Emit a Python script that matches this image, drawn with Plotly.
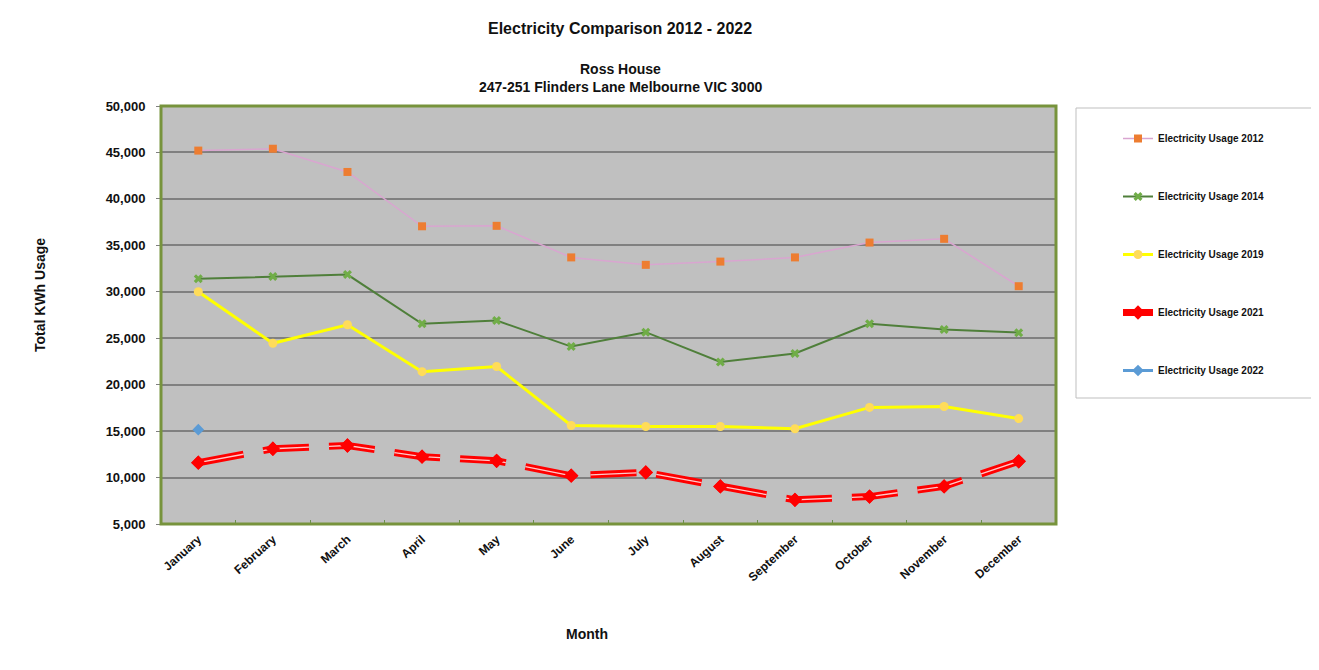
import plotly.graph_objects as go

months = ["January", "February", "March", "April", "May", "June", "July",
          "August", "September", "October", "November", "December"]

usage_2012 = [45200, 45400, 42900, 37050, 37100, 33700, 32900, 33250, 33700, 35300, 35700, 30600]
usage_2014 = [31400, 31650, 31850, 26550, 26900, 24100, 25650, 22450, 23350, 26550, 25950, 25600]
usage_2019 = [30000, 24450, 26450, 21400, 21950, 15600, 15500, 15500, 15250, 17550, 17650, 16350]
usage_2021 = [11600, 13100, 13450, 12250, 11800, 10200, 10550, 9050, 7600, 7950, 9050, 11750]
usage_2022 = [15150, None, None, None, None, None, None, None, None, None, None, None]

y_ticks = [5000, 10000, 15000, 20000, 25000, 30000, 35000, 40000, 45000, 50000]

# page has an 8px body margin; screen coordinates below
OFF = 8
W, H = 1319 - 2 * OFF, 670 - 2 * OFF
L, R, T, B = 161, 1056, 106, 524
FONT = "Liberation Sans, Arial, sans-serif"


def px_x(p):
    return (p - L) / (R - L)


def px_y(p):
    return (B - p) / (B - T)


fig = go.Figure()

fig.add_trace(go.Scatter(
    x=months, y=usage_2012, name="Electricity Usage 2012", mode="lines+markers",
    legendgroup="g2012",
    line=dict(color="#d9a5d0", width=1.5),
    marker=dict(symbol="square", size=8, color="#ed7d31"),
))
fig.add_trace(go.Scatter(
    x=months, y=usage_2014, name="Electricity Usage 2014", mode="lines+markers",
    legendgroup="g2014",
    line=dict(color="#4f7f3a", width=2),
    marker=dict(symbol="x", size=8, color="#70ad47"),
))
fig.add_trace(go.Scatter(
    x=months, y=usage_2019, name="Electricity Usage 2019", mode="lines+markers",
    legendgroup="g2019",
    line=dict(color="#ffff00", width=3),
    marker=dict(symbol="circle", size=9, color="#ffdc5a"),
))
fig.add_trace(go.Scatter(
    x=months, y=usage_2021, name="Electricity Usage 2021", mode="lines+markers",
    legendgroup="g2021",
    line=dict(color="#ff0000", width=7, dash="46px,20px"),
    marker=dict(symbol="diamond", size=11, color="#ff0000"),
))
fig.add_trace(go.Scatter(
    x=months, y=usage_2021, mode="lines", showlegend=False, hoverinfo="skip",
    legendgroup="g2021",
    line=dict(color="#ffcaca", width=1.3, dash="46px,20px"),
))
fig.add_trace(go.Scatter(
    x=months, y=usage_2021, mode="markers", showlegend=False, hoverinfo="skip",
    legendgroup="g2021",
    marker=dict(symbol="diamond", size=11, color="#ff0000"),
))
fig.add_trace(go.Scatter(
    x=months, y=usage_2022, name="Electricity Usage 2022", mode="lines+markers",
    legendgroup="g2022",
    line=dict(color="#5b9bd5", width=3),
    marker=dict(symbol="diamond", size=9, color="#5b9bd5"),
))

shapes = [
    # gray plot area
    dict(type="rect", xref="paper", yref="paper", layer="below",
         x0=0, x1=1, y0=0, y1=1, fillcolor="#c0c0c0", line=dict(width=0)),
    # green plot border
    dict(type="rect", xref="paper", yref="paper", layer="above",
         x0=0, x1=1, y0=0, y1=1, line=dict(color="#77933c", width=3)),
    # legend box
    dict(type="rect", xref="paper", yref="paper", layer="below",
         x0=px_x(1076), x1=px_x(1313), y0=px_y(398), y1=px_y(108),
         fillcolor="white", line=dict(color="#bfbfbf", width=1)),
]

annotations = [
    dict(text="<b>Electricity Comparison 2012 - 2022</b>", xref="paper", yref="paper",
         x=px_x(620), y=px_y(28), showarrow=False, xanchor="center", yanchor="middle",
         font=dict(family=FONT, size=16, color="#111111")),
    dict(text="<b>Ross House</b>", xref="paper", yref="paper",
         x=px_x(620), y=px_y(69), showarrow=False, xanchor="center", yanchor="middle",
         font=dict(family=FONT, size=14, color="#111111")),
    dict(text="<b>247-251 Flinders Lane Melbourne VIC 3000</b>", xref="paper", yref="paper",
         x=px_x(620), y=px_y(87), showarrow=False, xanchor="center", yanchor="middle",
         font=dict(family=FONT, size=14, color="#111111")),
    dict(text="<b>Total KWh Usage</b>", xref="paper", yref="paper", textangle=-90,
         x=px_x(40), y=px_y(295), showarrow=False, xanchor="center", yanchor="middle",
         font=dict(family=FONT, size=14, color="#111111")),
    dict(text="<b>Month</b>", xref="paper", yref="paper",
         x=px_x(587), y=px_y(634), showarrow=False, xanchor="center", yanchor="middle",
         font=dict(family=FONT, size=14, color="#111111")),
]

fig.update_layout(
    width=W, height=H,
    margin=dict(l=L - OFF, r=W - (R - OFF), t=T - OFF, b=H - (B - OFF), pad=0),
    paper_bgcolor="white",
    plot_bgcolor="rgba(0,0,0,0)",
    font=dict(family=FONT, color="#111111"),
    shapes=shapes,
    annotations=annotations,
    showlegend=True,
    legend=dict(
        x=px_x(1118), y=px_y(124), xanchor="left", yanchor="top",
        bgcolor="rgba(0,0,0,0)", borderwidth=0,
        traceorder="grouped", tracegroupgap=39,
        font=dict(family=FONT, size=10, color="#111111", weight="bold"),
    ),
    xaxis=dict(
        type="category", range=[-0.5, 11.5], tickangle=-42,
        tickson="boundaries", ticks="inside", ticklen=4, tickcolor="#6b8e4e",
        ticklabelstandoff=5,
        showgrid=False, zeroline=False, showline=False,
        tickfont=dict(family=FONT, size=12, color="#111111", weight="bold"),
    ),
    yaxis=dict(
        range=[5000, 50000], tickvals=y_ticks, tickformat=",",
        ticks="outside", ticklen=4, tickcolor="#808080",
        ticklabelstandoff=8,
        showgrid=True, gridcolor="#808080", gridwidth=1.5,
        zeroline=False, showline=False,
        tickfont=dict(family=FONT, size=13, color="#111111", weight="bold"),
    ),
)

fig.write_html("out.html")
